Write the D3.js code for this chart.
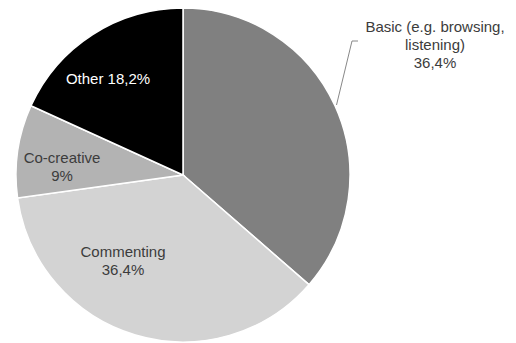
<!DOCTYPE html>
<html><head><meta charset="utf-8">
<script src="https://cdn.jsdelivr.net/npm/d3@7"></script>
<style>body{margin:0;background:#fff}svg{display:block}</style>
</head><body>
<script>
const categories = ["Basic (e.g. browsing, listening)", "Commenting", "Co-creative", "Other"];
const values = [36.4, 36.4, 9, 18.2];
const valueLabels = ["36,4%", "36,4%", "9%", "18,2%"];

const W = 516, H = 343;
const cx = 183, cy = 175, R = 167;
const colors = ["#808080", "#d3d3d3", "#b3b3b3", "#000000"];

const svg = d3.select("body").append("svg").attr("width", W).attr("height", H);
const g = svg.append("g").attr("transform", `translate(${cx},${cy})`);

const pie = d3.pie().sort(null).value(d => d)(values);
const arc = d3.arc().innerRadius(0).outerRadius(R);

g.selectAll("path").data(pie).join("path")
  .attr("d", arc)
  .attr("fill", (d, i) => colors[i])
  .attr("stroke", "#fff").attr("stroke-width", 1.5);

const font = "Liberation Sans, Arial, sans-serif";
// label layouts (absolute positions)
const labelLayout = [
  {x: 435, y: 32, lines: ["Basic (e.g. browsing,", "listening)", valueLabels[0]], fill: "#3c3c3c"},
  {x: 123, y: 257, lines: [categories[1], valueLabels[1]], fill: "#3c3c3c"},
  {x: 62, y: 163, lines: [categories[2], valueLabels[2]], fill: "#3c3c3c"},
  {x: 108, y: 84, lines: [categories[3] + " " + valueLabels[3]], fill: "#ffffff"}
];

labelLayout.forEach(l => {
  const t = svg.append("text")
    .attr("text-anchor", "middle")
    .attr("font-family", font).attr("font-size", 15)
    .attr("fill", l.fill);
  l.lines.forEach((s, j) => {
    t.append("tspan").attr("x", l.x).attr("y", l.y + j * 18).text(s);
  });
});

// leader line for Basic
svg.append("polyline")
  .attr("points", "336.5,105 352,41 358,41")
  .attr("fill", "none").attr("stroke", "#888").attr("stroke-width", 1);
</script>
</body></html>
